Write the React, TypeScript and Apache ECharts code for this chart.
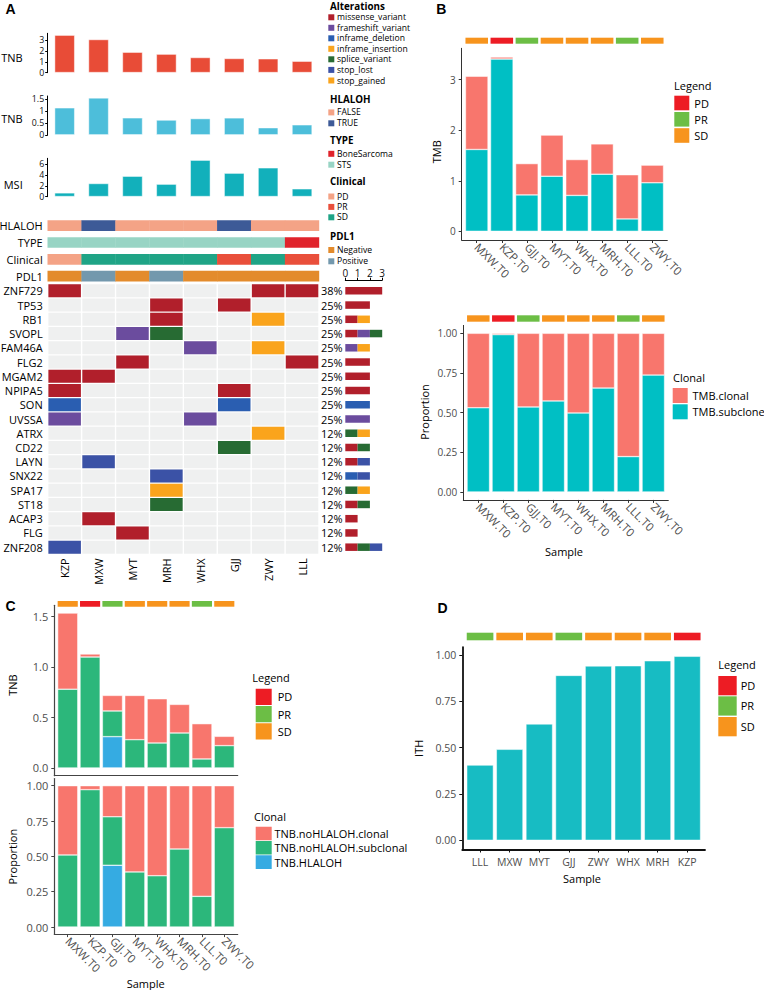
import React, { useEffect, useRef } from 'react';
import * as echarts from 'echarts';

const FONT = "'Open Sans', 'Noto Sans', 'DejaVu Sans', sans-serif";

// ---------------- Panel A data ----------------
const aSamples = ['KZP', 'MXW', 'MYT', 'MRH', 'WHX', 'GJJ', 'ZWY', 'LLL'];
const aTnbAll = [3.46, 3.06, 1.9, 1.72, 1.41, 1.32, 1.29, 1.07];
const aTnbNoLoh = [1.14, 1.55, 0.72, 0.63, 0.69, 0.72, 0.31, 0.43];
const aMsi = [0.73, 2.45, 3.8, 2.33, 6.73, 4.35, 5.32, 1.47];
const aTnbTicks = [0, 1, 2, 3];
const aTnb2Ticks = [0, 0.5, 1, 1.5];
const aMsiTicks = [0, 2, 4, 6];

const annTracks = ['HLALOH', 'TYPE', 'Clinical', 'PDL1'];
const annHlaloh = ['FALSE', 'TRUE', 'FALSE', 'FALSE', 'FALSE', 'TRUE', 'FALSE', 'FALSE'];
const annType = ['STS', 'STS', 'STS', 'STS', 'STS', 'STS', 'STS', 'BoneSarcoma'];
const annClinical = ['PD', 'SD', 'SD', 'SD', 'SD', 'PR', 'SD', 'PR'];
const annPdl1 = ['Negative', 'Positive', 'Negative', 'Positive', 'Negative', 'Negative', 'Negative', 'Negative'];

const hlalohLevels = ['FALSE', 'TRUE'];
const hlalohColors = ['#F4A386', '#3D5A97'];
const typeLevels = ['BoneSarcoma', 'STS'];
const typeColors = ['#E0232B', '#98D4C4'];
const clinLevels = ['PD', 'PR', 'SD'];
const clinColors = ['#F4A386', '#E94F3B', '#1FA486'];
const pdl1Levels = ['Negative', 'Positive'];
const pdl1Colors = ['#E38B2C', '#7398AD'];

const altTypes = ['missense_variant', 'frameshift_variant', 'inframe_deletion', 'inframe_insertion', 'splice_variant', 'stop_lost', 'stop_gained'];
const altColors = ['#B11F2B', '#6B4C9E', '#2A5EB1', '#F9A51E', '#276B33', '#3B52A6', '#FAA41C'];

const genes = ['ZNF729', 'TP53', 'RB1', 'SVOPL', 'FAM46A', 'FLG2', 'MGAM2', 'NPIPA5', 'SON', 'UVSSA', 'ATRX', 'CD22', 'LAYN', 'SNX22', 'SPA17', 'ST18', 'ACAP3', 'FLG', 'ZNF208'];
const genePct = ['38%', '25%', '25%', '25%', '25%', '25%', '25%', '25%', '25%', '25%', '12%', '12%', '12%', '12%', '12%', '12%', '12%', '12%', '12%'];

const mutCells: [string, string, string][] = [
  ['ZNF729', 'KZP', 'missense_variant'], ['ZNF729', 'ZWY', 'missense_variant'], ['ZNF729', 'LLL', 'missense_variant'],
  ['TP53', 'MRH', 'missense_variant'], ['TP53', 'GJJ', 'missense_variant'],
  ['RB1', 'MRH', 'missense_variant'], ['RB1', 'ZWY', 'stop_gained'],
  ['SVOPL', 'MYT', 'frameshift_variant'], ['SVOPL', 'MRH', 'splice_variant'],
  ['FAM46A', 'WHX', 'frameshift_variant'], ['FAM46A', 'ZWY', 'stop_gained'],
  ['FLG2', 'MYT', 'missense_variant'], ['FLG2', 'LLL', 'missense_variant'],
  ['MGAM2', 'KZP', 'missense_variant'], ['MGAM2', 'MXW', 'missense_variant'],
  ['NPIPA5', 'KZP', 'missense_variant'], ['NPIPA5', 'GJJ', 'missense_variant'],
  ['SON', 'KZP', 'inframe_deletion'], ['SON', 'GJJ', 'inframe_deletion'],
  ['UVSSA', 'KZP', 'frameshift_variant'], ['UVSSA', 'WHX', 'frameshift_variant'],
  ['ATRX', 'ZWY', 'stop_gained'],
  ['CD22', 'GJJ', 'splice_variant'],
  ['LAYN', 'MXW', 'stop_lost'],
  ['SNX22', 'MRH', 'stop_lost'],
  ['SPA17', 'MRH', 'stop_gained'],
  ['ST18', 'MRH', 'splice_variant'],
  ['ACAP3', 'MXW', 'missense_variant'],
  ['FLG', 'MYT', 'missense_variant'],
  ['ZNF208', 'KZP', 'stop_lost'],
];

// counts per alteration type for each gene (right barplot)
const cntMissense = [3, 2, 1, 1, 0, 2, 2, 2, 0, 0, 0, 1, 1, 0, 0, 1, 1, 1, 1];
const cntFrameshift = [0, 0, 0, 1, 1, 0, 0, 0, 0, 2, 0, 0, 0, 0, 0, 0, 0, 0, 0];
const cntInframeDel = [0, 0, 0, 0, 0, 0, 0, 0, 2, 0, 0, 0, 0, 1, 0, 0, 0, 0, 0];
const cntInframeIns = [0, 0, 0, 0, 0, 0, 0, 0, 0, 0, 0, 0, 0, 0, 0, 0, 0, 0, 0];
const cntSplice = [0, 0, 0, 1, 0, 0, 0, 0, 0, 0, 1, 1, 0, 0, 1, 1, 0, 0, 1];
const cntStopLost = [0, 0, 0, 0, 0, 0, 0, 0, 0, 0, 0, 0, 1, 1, 0, 0, 0, 0, 1];
const cntStopGained = [0, 0, 1, 0, 1, 0, 0, 0, 0, 0, 1, 0, 0, 0, 1, 0, 0, 0, 0];
const countTicks = [0, 1, 2, 3];

// ---------------- Panel B data ----------------
const bSamples = ['MXW.T0', 'KZP.T0', 'GJJ.T0', 'MYT.T0', 'WHX.T0', 'MRH.T0', 'LLL.T0', 'ZWY.T0'];
const bStatus = ['SD', 'PD', 'PR', 'SD', 'SD', 'SD', 'PR', 'SD'];
const bTmbSubclone = [1.62, 3.41, 0.72, 1.09, 0.71, 1.13, 0.245, 0.96];
const bTmbClonal = [1.45, 0.04, 0.62, 0.815, 0.71, 0.6, 0.875, 0.35];
const bPropSubclone = [0.531, 0.992, 0.536, 0.574, 0.498, 0.655, 0.223, 0.737];
const bPropClonal = [0.469, 0.008, 0.464, 0.426, 0.502, 0.345, 0.777, 0.263];
const bTmbTicks = [0, 1, 2, 3];
const propTicks = [0, 0.25, 0.5, 0.75, 1];

// ---------------- Panel C data ----------------
const cSamples = ['MXW.T0', 'KZP.T0', 'GJJ.T0', 'MYT.T0', 'WHX.T0', 'MRH.T0', 'LLL.T0', 'ZWY.T0'];
const cStatus = ['SD', 'PD', 'PR', 'SD', 'SD', 'SD', 'PR', 'SD'];
const cTnbHlaloh = [0, 0, 0.31, 0, 0, 0, 0, 0];
const cTnbSubclonal = [0.78, 1.098, 0.254, 0.28, 0.247, 0.346, 0.089, 0.221];
const cTnbClonal = [0.753, 0.03, 0.154, 0.438, 0.438, 0.283, 0.349, 0.092];
const cPropHlaloh = [0, 0, 0.437, 0, 0, 0, 0, 0];
const cPropSubclonal = [0.51, 0.972, 0.343, 0.39, 0.363, 0.552, 0.217, 0.703];
const cPropClonal = [0.49, 0.028, 0.22, 0.61, 0.637, 0.448, 0.783, 0.297];
const cTnbTicks = [0, 0.5, 1, 1.5];

// ---------------- Panel D data ----------------
const dSamples = ['LLL', 'MXW', 'MYT', 'GJJ', 'ZWY', 'WHX', 'MRH', 'KZP'];
const dStatus = ['PR', 'SD', 'SD', 'PR', 'SD', 'SD', 'SD', 'PD'];
const dIth = [0.406, 0.491, 0.628, 0.89, 0.941, 0.942, 0.969, 0.993];

const statusLevels = ['PD', 'PR', 'SD'];
const statusColors = ['#ED1C24', '#6CBE45', '#F7941D'];
const clonalLevelsB = ['TMB.clonal', 'TMB.subclone'];
const clonalColorsB = ['#F8766D', '#00BFC4'];
const clonalLevelsC = ['TNB.noHLALOH.clonal', 'TNB.noHLALOH.subclonal', 'TNB.HLALOH'];
const clonalColorsC = ['#F8766D', '#2CB77B', '#35ABE2'];
const dBarColor = '#17BCC3';

function statusColor(s: string) {
  return statusColors[statusLevels.indexOf(s)];
}

function buildOption() {
  const grids: any[] = [];
  const xAxes: any[] = [];
  const yAxes: any[] = [];
  const series: any[] = [];
  const graphics: any[] = [];

  const addGrid = (g: any) => {
    grids.push({ ...g, containLabel: false, outerBoundsMode: 'none', show: false });
    return grids.length - 1;
  };

  const txt = (x: number, y: number, text: string, size: number, opts: any = {}) => {
    graphics.push({
      type: 'text', x, y, rotation: opts.rotation || 0, silent: true,
      style: {
        text, fill: opts.color || '#000',
        font: `${opts.bold ? 'bold ' : ''}${size}px ${opts.family || FONT}`,
        textAlign: opts.align || 'left', align: opts.align || 'left',
        textVerticalAlign: 'middle', verticalAlign: 'middle',
      },
    });
  };
  const rect = (x: number, y: number, w: number, h: number, fill: string) => {
    graphics.push({ type: 'rect', silent: true, shape: { x, y, width: w, height: h }, style: { fill } });
  };

  // ---------- Panel A: top annotation bar charts ----------
  const aLeft = 47.7;
  const aWidth = 271.3;
  const aBar = (top: number, height: number, max: number, ticks: number[], values: number[], color: string) => {
    const gi = addGrid({ left: aLeft, top, width: aWidth, height });
    xAxes.push({ gridIndex: gi, type: 'category', data: aSamples, show: false });
    yAxes.push({
      gridIndex: gi, type: 'value', min: 0, max,
      axisLine: { show: true, onZero: false, lineStyle: { color: '#000', width: 1 } },
      axisTick: { show: true, length: 2.5, customValues: ticks, lineStyle: { color: '#000', width: 1 } },
      axisLabel: { show: true, customValues: ticks, fontSize: 8.8, color: '#111', margin: 3.5, fontFamily: FONT },
      splitLine: { show: false },
    });
    series.push({
      type: 'bar', xAxisIndex: xAxes.length - 1, yAxisIndex: yAxes.length - 1, data: values,
      barWidth: '60%', silent: true,
      itemStyle: { color, borderColor: 'rgba(255,255,255,0.6)', borderWidth: 0.8 },
    });
  };
  aBar(33.3, 39.4, 3.62, aTnbTicks, aTnbAll, '#E84C37');
  aBar(96, 39, 1.625, aTnb2Ticks, aTnbNoLoh, '#4DBEDA');
  aBar(158.3, 38.4, 7.05, aMsiTicks, aMsi, '#12B0BB');
  txt(22.7, 57, 'TNB', 11, { align: 'right' });
  txt(22.7, 118, 'TNB', 11, { align: 'right' });
  txt(22.7, 184, 'MSI', 11, { align: 'right' });

  // ---------- Panel A: annotation tracks ----------
  {
    const gi = addGrid({ left: aLeft, top: 217.3, width: aWidth, height: 67.2 });
    xAxes.push({ gridIndex: gi, type: 'category', data: aSamples, show: false });
    yAxes.push({
      gridIndex: gi, type: 'category', data: annTracks, inverse: true,
      axisLine: { show: false }, axisTick: { show: false },
      axisLabel: { fontSize: 11, color: '#000', margin: 5, fontFamily: FONT, interval: 0 },
    });
    const tracks: [string[], string[], string[]][] = [
      [annHlaloh, hlalohLevels, hlalohColors],
      [annType, typeLevels, typeColors],
      [annClinical, clinLevels, clinColors],
      [annPdl1, pdl1Levels, pdl1Colors],
    ];
    const data: any[] = [];
    tracks.forEach(([vals, lv, cols], r) => {
      vals.forEach((v, c) => data.push({ value: [c, r], itemStyle: { color: cols[lv.indexOf(v)] } }));
    });
    series.push({
      type: 'custom', xAxisIndex: xAxes.length - 1, yAxisIndex: yAxes.length - 1, silent: true,
      renderItem: (_p: any, api: any) => {
        const p = api.coord([api.value(0), api.value(1)]);
        const s = api.size([1, 1]);
        const h = 10.7;
        return { type: 'rect', shape: { x: p[0] - s[0] / 2 - 0.2, y: p[1] - h / 2, width: s[0] + 0.4, height: h }, style: { fill: api.visual('color') } };
      },
      data,
    });
  }

  // ---------- Panel A: oncoprint ----------
  {
    const gi = addGrid({ left: aLeft, top: 283.7, width: aWidth, height: 270.6 });
    xAxes.push({
      gridIndex: gi, type: 'category', data: aSamples, position: 'bottom',
      axisLine: { show: false }, axisTick: { show: false },
      axisLabel: { rotate: 90, fontSize: 11, color: '#000', margin: 4, fontFamily: FONT, interval: 0 },
    });
    const xi = xAxes.length - 1;
    yAxes.push({
      gridIndex: gi, type: 'category', data: genes, inverse: true,
      axisLine: { show: false }, axisTick: { show: false },
      axisLabel: { fontSize: 11, color: '#000', margin: 5, fontFamily: FONT, interval: 0 },
    });
    const yi = yAxes.length - 1;
    yAxes.push({
      gridIndex: gi, type: 'category', data: genes, inverse: true, position: 'right',
      axisLine: { show: false }, axisTick: { show: false },
      axisLabel: { fontSize: 11, color: '#000', margin: 2, fontFamily: FONT, interval: 0, formatter: (_v: string, i: number) => genePct[i] },
    });
    const bg: any[] = [];
    genes.forEach((_g, r) => aSamples.forEach((_s, c) => bg.push({ value: [c, r], itemStyle: { color: '#EFF0F0' } })));
    const fg = mutCells.map(([g, s, t]) => ({
      value: [aSamples.indexOf(s), genes.indexOf(g)],
      itemStyle: { color: altColors[altTypes.indexOf(t)] },
    }));
    const cellRender = (_p: any, api: any) => {
      const p = api.coord([api.value(0), api.value(1)]);
      const s = api.size([1, 1]);
      return { type: 'rect', shape: { x: p[0] - s[0] / 2 + 0.7, y: p[1] - s[1] / 2 + 0.65, width: s[0] - 1.4, height: s[1] - 1.3 }, style: { fill: api.visual('color') } };
    };
    series.push({ type: 'custom', xAxisIndex: xi, yAxisIndex: yi, silent: true, renderItem: cellRender, data: bg });
    series.push({ type: 'custom', xAxisIndex: xi, yAxisIndex: yi, silent: true, renderItem: cellRender, data: fg });
  }

  // ---------- Panel A: right barplot ----------
  {
    const gi = addGrid({ left: 345.3, top: 283.7, width: 36.9, height: 270.6 });
    xAxes.push({
      gridIndex: gi, type: 'value', min: 0, max: 3, interval: 1, position: 'top', offset: 3.5,
      axisLine: { show: true, onZero: false, lineStyle: { color: '#000', width: 1 } },
      axisTick: { show: true, length: 2.5, customValues: countTicks, lineStyle: { color: '#000' } },
      axisLabel: { customValues: countTicks, fontSize: 10, color: '#111', margin: 2.5, fontFamily: FONT },
      splitLine: { show: false },
    });
    const xi = xAxes.length - 1;
    yAxes.push({ gridIndex: gi, type: 'category', data: genes, inverse: true, show: false });
    const yi = yAxes.length - 1;
    const counts = [cntMissense, cntFrameshift, cntInframeDel, cntInframeIns, cntSplice, cntStopLost, cntStopGained];
    counts.forEach((arr, k) => {
      series.push({
        type: 'bar', xAxisIndex: xi, yAxisIndex: yi, stack: 'alt', data: arr, barWidth: 7.5, silent: true,
        itemStyle: { color: altColors[k] },
      });
    });
  }

  // ---------- Panel A legend ----------
  {
    const sx = 328.3;
    const tx = 337;
    const blocks: [string, number, string[], string[], number[]][] = [
      ['Alterations', 6.3, altTypes, altColors, [17.3, 27.8, 38.3, 48.8, 59.3, 69.9, 80.5]],
      ['HLALOH', 99, hlalohLevels, hlalohColors, [112.4, 123.3]],
      ['TYPE', 140.7, typeLevels, typeColors, [153.8, 164.7]],
      ['Clinical', 181.7, clinLevels, clinColors, [196.5, 206.9, 217.3]],
      ['PDL1', 236, pdl1Levels, pdl1Colors, [250, 261.3]],
    ];
    blocks.forEach(([title, ty, items, cols, ys]) => {
      txt(330, ty, title, 9.8, { bold: true });
      items.forEach((it, i) => {
        rect(sx, ys[i] - 3, 6, 6, cols[i]);
        txt(tx, ys[i], it, 8.6);
      });
    });
  }

  // ---------- ggplot style panels ----------
  // visible axes on a value scale spanning [0.4, n + 0.6]; bars on an overlaid category grid covering [0.5, n + 0.5]
  const ggPanel = (o: any) => {
    const gi = addGrid({ left: o.left, top: o.top, width: o.width, height: o.height });
    const n = o.labels.length;
    const pos = o.labels.map((_: string, i: number) => i + 1);
    xAxes.push({
      gridIndex: gi, type: 'value', min: 0.4, max: n + 0.6,
      axisLine: { show: true, onZero: false, lineStyle: { color: o.axisColor, width: o.axisWidth } },
      axisTick: { show: o.showX, length: 3, customValues: pos, lineStyle: { color: o.axisColor, width: 1 } },
      axisLabel: {
        show: o.showX, customValues: pos, rotate: o.rotate, fontSize: o.xFont, color: '#4D4D4D', margin: o.xMargin, fontFamily: FONT,
        formatter: (v: number) => o.labels[Math.round(v) - 1] ?? '',
      },
      splitLine: { show: false },
    });
    yAxes.push({
      gridIndex: gi, type: 'value', min: o.yMin, max: o.yMax,
      axisLine: { show: true, onZero: false, lineStyle: { color: o.axisColor, width: o.axisWidth } },
      axisTick: { show: true, length: 3, customValues: o.yTicks, lineStyle: { color: o.axisColor, width: 1 } },
      axisLabel: {
        customValues: o.yTicks, fontSize: o.yFont, color: '#4D4D4D', margin: 6, fontFamily: FONT,
        formatter: (v: number) => v.toFixed(o.yDigits),
      },
      splitLine: { show: false },
    });
    const unit = o.width / (n + 0.2);
    const bgi = addGrid({ left: o.left + 0.1 * unit, top: o.top, width: n * unit, height: o.height });
    xAxes.push({ gridIndex: bgi, type: 'category', data: o.labels, show: false });
    yAxes.push({ gridIndex: bgi, type: 'value', min: o.yMin, max: o.yMax, show: false });
    return { xi: xAxes.length - 1, yi: yAxes.length - 1 };
  };
  const stackBars = (p: any, stack: string, arrs: number[][], colors: string[]) => {
    arrs.forEach((arr, k) => {
      series.push({
        type: 'bar', xAxisIndex: p.xi, yAxisIndex: p.yi, stack, barCategoryGap: '10%', silent: true,
        data: arr,
        itemStyle: { color: colors[k], borderColor: '#fff', borderWidth: 0.5 },
      });
    });
  };
  const statusStrip = (left: number, top: number, width: number, height: number, st: string[]) => {
    const n = st.length;
    const unit = width / (n + 0.2);
    const gi = addGrid({ left: left + 0.1 * unit, top, width: n * unit, height });
    xAxes.push({ gridIndex: gi, type: 'category', data: st.map((_s, i) => String(i)), show: false });
    yAxes.push({ gridIndex: gi, type: 'value', min: 0, max: 1, show: false });
    series.push({
      type: 'bar', xAxisIndex: xAxes.length - 1, yAxisIndex: yAxes.length - 1, silent: true,
      barCategoryGap: '10%',
      data: st.map((s) => ({ value: 1, itemStyle: { color: statusColor(s) } })),
    });
  };
  const legendBlock = (title: string, tx: number, ty: number, sx: number, sw: number, tops: number[], sh: number, textX: number, items: string[], cols: string[]) => {
    txt(tx, ty, title, 11);
    items.forEach((it, i) => {
      rect(sx, tops[i], sw, sh, cols[i]);
      txt(textX, tops[i] + sh / 2, it, 11);
    });
  };

  // ---------- Panel B top ----------
  {
    const p = ggPanel({
      left: 461.7, top: 48.3, width: 205.6, height: 191.7, yMin: -0.1725, yMax: 3.6225, yTicks: bTmbTicks, yDigits: 0,
      labels: bSamples, showX: true, rotate: -45, axisColor: '#333', axisWidth: 1, xFont: 11.5, yFont: 10, xMargin: 5,
    });
    stackBars(p, 'b1', [bTmbSubclone, bTmbClonal], [clonalColorsB[1], clonalColorsB[0]]);
    statusStrip(461.7, 37.7, 205.6, 6, bStatus);
    txt(436, 151.7, 'TMB', 11, { rotation: Math.PI / 2, align: 'center' });
    legendBlock('Legend', 674, 85, 674.3, 15, [95.7, 112, 128.2], 14.6, 694.3, statusLevels, statusColors);
  }
  // ---------- Panel B bottom ----------
  {
    const p = ggPanel({
      left: 463.3, top: 325.4, width: 205, height: 174.5, yMin: -0.05, yMax: 1.05, yTicks: propTicks, yDigits: 2,
      labels: bSamples, showX: true, rotate: -45, axisColor: '#333', axisWidth: 1, xFont: 11.5, yFont: 10, xMargin: 5,
    });
    stackBars(p, 'b2', [bPropSubclone, bPropClonal], [clonalColorsB[1], clonalColorsB[0]]);
    statusStrip(463.3, 315.3, 205, 6.4, bStatus);
    txt(424, 412, 'Proportion', 11, { rotation: Math.PI / 2, align: 'center' });
    txt(564, 551, 'Sample', 11, { align: 'center' });
    legendBlock('Clonal', 673, 377.3, 672.7, 15, [388, 404.3], 15, 692.5, clonalLevelsB, clonalColorsB);
  }
  // ---------- Panel C top ----------
  {
    const p = ggPanel({
      left: 54.3, top: 605.3, width: 183.4, height: 170.4, yMin: -0.0767, yMax: 1.61, yTicks: cTnbTicks, yDigits: 1,
      labels: cSamples, showX: false, rotate: 0, axisColor: '#444', axisWidth: 1.2, xFont: 11.5, yFont: 11, xMargin: 5,
    });
    stackBars(p, 'c1', [cTnbHlaloh, cTnbSubclonal, cTnbClonal], [clonalColorsC[2], clonalColorsC[1], clonalColorsC[0]]);
    statusStrip(54.3, 601, 183.4, 5.7, cStatus);
    txt(12.7, 685, 'TNB', 11, { rotation: Math.PI / 2, align: 'center' });
    legendBlock('Legend', 252.3, 677.3, 255.7, 16, [688.7, 706, 723.3], 16.3, 277.7, statusLevels, statusColors);
  }
  // ---------- Panel C bottom ----------
  {
    const p = ggPanel({
      left: 54.3, top: 778.6, width: 183.4, height: 155.5, yMin: -0.05, yMax: 1.05, yTicks: propTicks, yDigits: 2,
      labels: cSamples, showX: true, rotate: -45, axisColor: '#444', axisWidth: 1.2, xFont: 11.5, yFont: 11, xMargin: 5,
    });
    stackBars(p, 'c2', [cPropHlaloh, cPropSubclonal, cPropClonal], [clonalColorsC[2], clonalColorsC[1], clonalColorsC[0]]);
    txt(12.7, 856.7, 'Proportion', 11, { rotation: Math.PI / 2, align: 'center' });
    txt(145.7, 983.3, 'Sample', 11, { align: 'center' });
    legendBlock('Clonal', 254, 816.7, 255.7, 16, [826.7, 841, 855.3], 13.6, 274.5, clonalLevelsC, clonalColorsC);
  }
  // ---------- Panel D ----------
  {
    const p = ggPanel({
      left: 462.3, top: 647.1, width: 242.7, height: 202.4, yMin: -0.0497, yMax: 1.0427, yTicks: propTicks, yDigits: 2,
      labels: dSamples, showX: true, rotate: 0, axisColor: '#111', axisWidth: 1.8, xFont: 10.5, yFont: 10.5, xMargin: 7,
    });
    stackBars(p, 'd', [dIth], [dBarColor]);
    statusStrip(462.3, 632.7, 242.7, 7.6, dStatus);
    txt(418.3, 748.3, 'ITH', 11, { rotation: Math.PI / 2, align: 'center' });
    txt(582, 878.3, 'Sample', 11, { align: 'center' });
    legendBlock('Legend', 718.3, 664, 718.3, 18.4, [676, 696.3, 717], 19.3, 740.7, statusLevels, statusColors);
  }

  // panel letters
  const LF = "'Liberation Sans', Arial, sans-serif";
  txt(10.5, 8.5, 'A', 14, { bold: true, align: 'center', family: LF });
  txt(441.3, 9, 'B', 14, { bold: true, align: 'center', family: LF });
  txt(10.5, 605.7, 'C', 14, { bold: true, align: 'center', family: LF });
  txt(442.5, 608.3, 'D', 14, { bold: true, align: 'center', family: LF });

  return {
    animation: false,
    backgroundColor: '#fff',
    textStyle: { fontFamily: FONT },
    grid: grids,
    xAxis: xAxes,
    yAxis: yAxes,
    series,
    graphic: { elements: graphics },
  };
}

export default function App() {
  const ref = useRef<HTMLDivElement>(null);
  useEffect(() => {
    if (!ref.current) return;
    const chart = echarts.init(ref.current, undefined, { renderer: 'svg' });
    chart.setOption(buildOption() as any);
    return () => chart.dispose();
  }, []);
  return <div ref={ref} style={{ position: 'fixed', left: 0, top: 0, width: 764, height: 990, background: '#fff' }} />;
}
